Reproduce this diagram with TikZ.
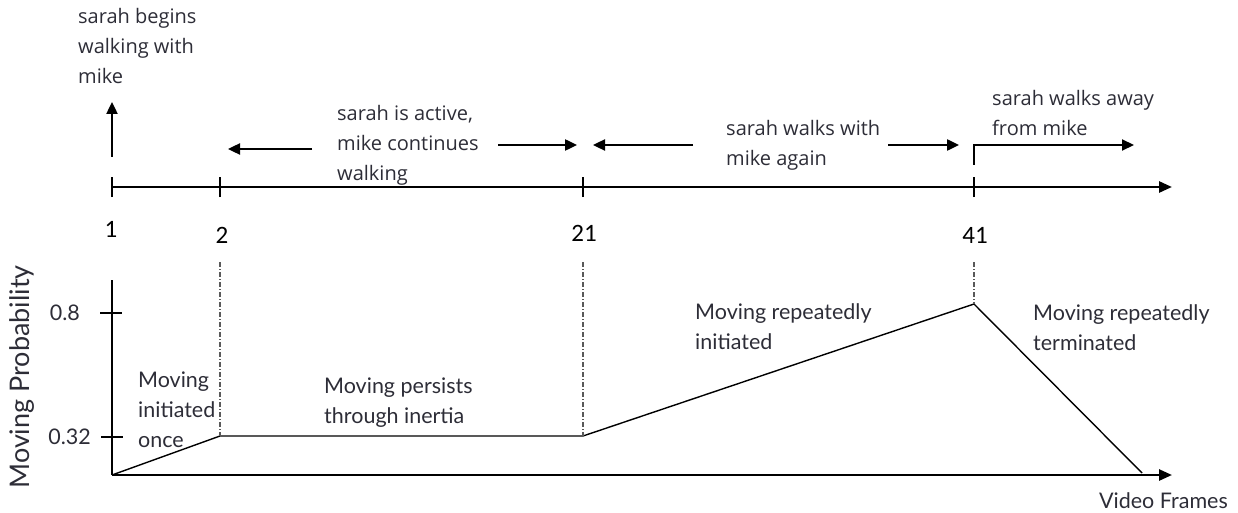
\documentclass[tikz,border=0pt]{standalone}
\usepackage{fontspec}
\setmainfont{Open Sans}
\newfontfamily\lowfont{Lato}
\newfontfamily\numfont{Carlito}
\usetikzlibrary{arrows.meta}
\definecolor{txt}{RGB}{45,45,55}
\tikzset{
  toptext/.style={anchor=north west,inner sep=0pt,align=left,text=txt,font=\fontsize{20}{30}\selectfont},
  lowtext/.style={anchor=north west,inner sep=0pt,align=left,text=txt,font=\lowfont\fontsize{21.5}{30}\selectfont},
  valtext/.style={inner sep=0pt,text=txt,font=\lowfont\fontsize{21.5}{24}\selectfont},
  numtext/.style={inner sep=0pt,font=\numfont\fontsize{25}{28}\selectfont},
  axis/.style={line width=2.6pt,-{Triangle[length=13pt,width=11pt]}},
  tick/.style={line width=1.6pt},
  harrow/.style={line width=2.4pt,-{Triangle[length=12pt,width=11pt]}},
  curve/.style={line width=1.4pt,line join=miter},
  guide/.style={line width=1.1pt,gray!70!black,dash pattern=on 5pt off 2pt on 1pt off 2pt}
}
\begin{document}
\begin{tikzpicture}[x=1pt,y=-1pt]
\useasboundingbox (0,0) rectangle (1238,513);
% top timeline
\coordinate (t1) at (112,187);
\coordinate (t2) at (220,187);
\coordinate (t21) at (583,187);
\coordinate (t41) at (974,187);
\coordinate (tend) at (1172,187);
\draw[axis] (t1) -- (tend);
\foreach \c in {t1,t2,t21,t41} \draw[tick] ([yshift=-10pt]\c) -- ([yshift=10pt]\c);
% numbers
\node[numtext] (n1) at (111,229) {1};
\node[numtext] (n2) at (222,235) {2};
\node[numtext] (n21) at (584,233) {21};
\node[numtext] (n41) at (975,235) {41};
% up arrow
\coordinate (ua0) at (112,157);
\coordinate (ua1) at (112,102);
\draw[harrow] (ua0) -- (ua1);
% texts top
\node[toptext] (l1) at (78,8) {sarah begins\\walking with\\mike};
\node[toptext] (l2) at (337,105) {sarah is active,\\mike continues\\walking};
\node[toptext] (l3) at (726,120) {sarah walks with\\mike again};
\node[toptext] (l4) at (992,90) {sarah walks away\\from mike};
% horizontal arrows
\coordinate (a1s) at (312,149); \coordinate (a1e) at (228,149);
\coordinate (a2s) at (498,145); \coordinate (a2e) at (577,145);
\coordinate (a3s) at (693,145); \coordinate (a3e) at (593,145);
\coordinate (a4s) at (888,145); \coordinate (a4e) at (959,145);
\coordinate (a5s) at (974,165); \coordinate (a5m) at (974,145); \coordinate (a5e) at (1134,145);
\draw[harrow] (a1s) -- (a1e);
\draw[harrow] (a2s) -- (a2e);
\draw[harrow] (a3s) -- (a3e);
\draw[harrow] (a4s) -- (a4e);
\draw[harrow,line width=2pt] (a5s) -- (a5m) -- (a5e);
% bottom axes
\coordinate (o) at (112,475);
\coordinate (ytop) at (112,280);
\coordinate (xend) at (1172,475);
\draw[line width=1.6pt] (o) -- (ytop);
\draw[axis] (o) -- (xend);
\coordinate (y8) at (112,313);
\coordinate (y32) at (112,437);
\draw[line width=1.2pt] ([xshift=-12pt]y8) -- ([xshift=10pt]y8);
\draw[line width=1.2pt] ([xshift=-11pt]y32) -- ([xshift=11pt]y32);
\node[valtext,anchor=east] (v8) at (80,313) {0.8};
\node[valtext,anchor=east] (v32) at (91,437) {0.32};
\node[rotate=90,inner sep=0pt,text=txt,font=\lowfont\fontsize{27}{30}\selectfont] (ylab) at (22,377) {Moving Probability};
\node[valtext,anchor=north east] (xlab) at (1228,492) {Video Frames};
% probability curve
\coordinate (p0) at (112,475);
\coordinate (p1) at (220,436);
\coordinate (p2) at (583,436);
\coordinate (p3) at (974,304);
\coordinate (p4) at (1142,473);
\draw[curve] (p0) -- (p1) -- (p2) -- (p3) -- (p4);
% guides
\coordinate (g1) at (220,262);
\coordinate (g2) at (583,262);
\coordinate (g3) at (974,262);
\draw[guide] (g1) -- (p1);
\draw[guide] (g2) -- (p2);
\draw[guide] (g3) -- (p3);
% bottom texts
\node[lowtext] (b1) at (138,372) {Moving\\initiated\\once};
\node[lowtext] (b2) at (324,378) {Moving persists\\through inertia};
\node[lowtext] (b3) at (695,303) {Moving repeatedly\\initiated};
\node[lowtext] (b4) at (1033,304) {Moving repeatedly\\terminated};
\end{tikzpicture}
\end{document}
